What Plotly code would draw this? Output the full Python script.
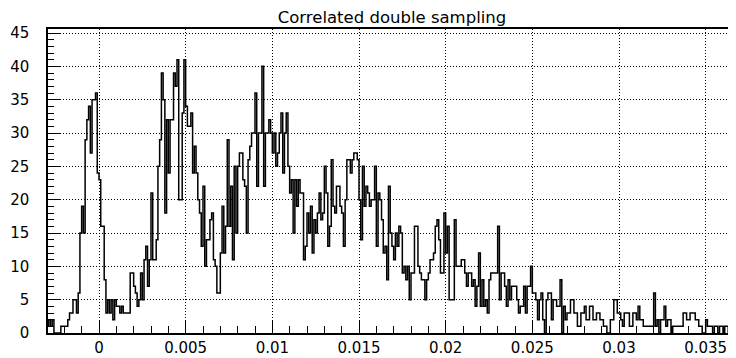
import plotly.graph_objects as go

# Histogram: bin start, bin width, counts per bin
bin_start = -0.003
bin_width = 0.0001
counts = [
    1, 2, 1, 2, 0, 0, 0, 0, 1, 1,
    1, 1, 2, 3, 3, 5, 5, 3, 6, 15,
    19, 15, 29, 32, 34, 27, 35, 35, 36, 24,
    23, 16, 16, 8, 3, 5, 3, 5, 2, 5,
    4, 4, 3, 4, 3, 3, 3, 3, 9, 9,
    7, 6, 4, 5, 9, 5, 11, 13, 7, 11,
    21, 11, 11, 14, 25, 29, 39, 35, 18, 32,
    24, 32, 32, 39, 37, 41, 20, 20, 33, 41,
    34, 31, 31, 33, 24, 28, 24, 20, 18, 13,
    22, 10, 14, 14, 17, 18, 11, 10, 6, 6,
    12, 19, 12, 16, 29, 16, 22, 11, 25, 15,
    25, 27, 27, 23, 22, 15, 26, 28, 30, 30,
    36, 22, 30, 30, 40, 22, 30, 30, 32, 30,
    27, 30, 25, 27, 30, 33, 24, 30, 33, 25,
    21, 23, 15, 23, 19, 23, 21, 21, 11, 13,
    18, 15, 19, 12, 17, 15, 18, 21, 17, 18,
    25, 21, 13, 16, 26, 19, 18, 22, 22, 19,
    18, 13, 20, 26, 26, 24, 26, 27, 27, 26,
    20, 14, 25, 19, 22, 21, 19, 20, 20, 25,
    13, 21, 20, 17, 12, 13, 8, 22, 15, 13,
    11, 15, 13, 16, 15, 9, 10, 8, 10, 5,
    9, 9, 16, 16, 10, 9, 8, 8, 5, 8,
    9, 11, 11, 12, 16, 17, 14, 9, 9, 18,
    12, 16, 5, 5, 5, 17, 10, 10, 10, 11,
    11, 9, 7, 9, 9, 7, 8, 4, 7, 12,
    4, 8, 4, 5, 3, 8, 9, 9, 9, 9,
    16, 5, 9, 9, 7, 4, 8, 5, 7, 7,
    7, 5, 3, 4, 4, 7, 3, 7, 7, 10,
    6, 6, 5, 2, 5, 6, 2, 0, 5, 6,
    6, 2, 5, 5, 4, 4, 8, 0, 4, 2,
    3, 3, 5, 5, 3, 3, 1, 1, 3, 3,
    4, 2, 2, 4, 4, 2, 2, 3, 3, 2,
    2, 1, 1, 0, 0, 2, 2, 5, 5, 3,
    3, 2, 1, 3, 3, 3, 1, 1, 3, 3,
    2, 4, 2, 2, 1, 1, 1, 1, 1, 1,
    6, 1, 2, 0, 2, 2, 4, 1, 2, 2,
    0, 1, 1, 1, 1, 1, 1, 3, 3, 2,
    2, 3, 3, 3, 2, 2, 1, 1, 0, 0,
    2, 1, 1, 1, 0, 1, 1, 0, 1, 1,
    0, 1, 1, 0, 1, 4, 1, 1,
]

x_tick_vals = [0, 0.005, 0.01, 0.015, 0.02, 0.025, 0.03, 0.035]
x_tick_text = ["0", "0.005", "0.01", "0.015", "0.02", "0.025", "0.03", "0.035"]
y_tick_vals = [0, 5, 10, 15, 20, 25, 30, 35, 40, 45]
title_text = "Correlated double sampling"

edges = [bin_start + i * bin_width for i in range(len(counts) + 1)]
xs = [edges[0]] + edges
ys = [0] + counts + [counts[-1]]

fig = go.Figure()
fig.add_trace(go.Scatter(
    x=xs, y=ys, mode="lines", line=dict(color="black", width=1.5, shape="hv"),
    hoverinfo="skip", showlegend=False,
))

# page body has an 8px default margin, so the figure is 8px smaller
W, H = 728, 350
font = dict(family="DejaVu Sans", size=15, color="black")
fig.update_layout(
    width=W, height=H,
    margin=dict(l=40, r=0, t=21, b=25, autoexpand=False),
    paper_bgcolor="white", plot_bgcolor="white",
    title=dict(text=title_text, x=384 / W, xanchor="center", y=1 - 9 / H,
               yanchor="middle", font=dict(family="DejaVu Sans", size=16.5, color="black")),
    font=font,
)
fig.update_xaxes(
    range=[-0.002942, 0.03675], automargin=False,
    tickvals=x_tick_vals, ticktext=x_tick_text,
    ticks="inside", ticklen=12, tickcolor="black", tickwidth=1,
    minor=dict(dtick=0.001, tick0=0, ticks="inside", ticklen=7, tickcolor="black", tickwidth=1,
               showgrid=False),
    showgrid=True, gridcolor="black", gridwidth=1, griddash="1px,2px",
    showline=True, linecolor="black", linewidth=1.5, mirror=True,
    zeroline=False, ticklabelstandoff=0,
    tickfont=font,
)
fig.update_yaxes(
    range=[0, 45.6], automargin=False,
    tickvals=y_tick_vals,
    ticks="inside", ticklen=12, tickcolor="black", tickwidth=1,
    minor=dict(dtick=1, tick0=0, ticks="inside", ticklen=6, tickcolor="black", tickwidth=1,
               showgrid=False),
    showgrid=True, gridcolor="black", gridwidth=1, griddash="1px,2px",
    showline=True, linecolor="black", linewidth=1.5, mirror=False,
    zeroline=False, ticklabelstandoff=14,
    tickfont=font,
)

fig.write_html("out.html")
